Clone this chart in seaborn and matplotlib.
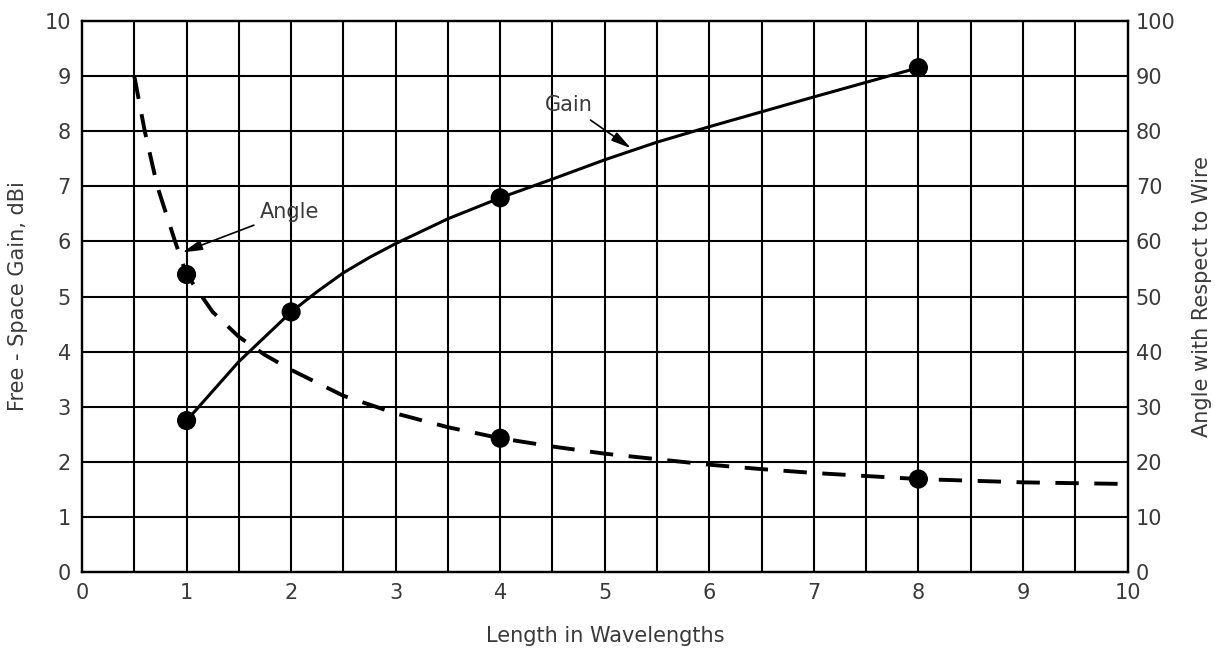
import matplotlib
matplotlib.use("Agg")
import matplotlib.pyplot as plt
import seaborn as sns
import pandas as pd
import numpy as np

# Gain curve (left axis, dBi)
gain_x = [1, 1.5, 2, 2.25, 2.5, 2.75, 3, 3.5, 4, 4.5, 5, 5.5, 6, 7, 8]
gain_y = [2.75, 3.82, 4.72, 5.09, 5.43, 5.71, 5.96, 6.41, 6.79, 7.13, 7.48, 7.80, 8.08, 8.62, 9.15]
gain_mark_x = [1, 2, 4, 8]
gain_mark_y = [2.75, 4.72, 6.79, 9.15]

# Angle curve (right axis, degrees)
angle_x = [0.5, 0.6, 0.72, 0.89, 1, 1.25, 1.5, 1.75, 2, 2.5, 3, 3.5, 4, 4.5, 5, 5.5, 6, 6.5, 7, 8, 9, 10]
angle_y = [90, 80, 70, 60, 54.0, 47.2, 42.7, 39.4, 36.7, 32.0, 28.8, 26.3, 24.3, 22.8, 21.5, 20.5, 19.5, 18.7, 18.0, 16.9, 16.3, 16.0]
angle_mark_x = [1, 4, 8]
angle_mark_y = [54.0, 24.3, 16.9]

x_ticks = list(range(0, 11))
left_ticks = list(range(0, 11))
right_ticks = list(range(0, 101, 10))

sns.set_style("white")
plt.rcParams['font.family'] = ['DejaVu Sans']
TXT = '#3a3a3a'
FS = 15

fig = plt.figure(figsize=(12.15, 6.51), dpi=100)
ax = fig.add_axes([0.0675, 0.121, 0.8605, 0.847])
ax2 = ax.twinx()

# grid
ax.set_xlim(0, 10)
ax.set_ylim(0, 10)
ax2.set_ylim(0, 100)
for v in np.arange(0.5, 10, 0.5):
    ax.axvline(v, color='black', lw=1.5, zorder=1)
for v in range(1, 10):
    ax.axhline(v, color='black', lw=1.5, zorder=1)

gdf = pd.DataFrame({'x': gain_x, 'y': gain_y})
sns.lineplot(data=gdf, x='x', y='y', ax=ax, color='black', lw=2.2, sort=False, zorder=3)
sns.scatterplot(x=gain_mark_x, y=gain_mark_y, ax=ax, color='black', s=190, edgecolor='none', zorder=4)

adf = pd.DataFrame({'x': angle_x, 'y': angle_y})
sns.lineplot(data=adf, x='x', y='y', ax=ax2, color='black', lw=2.8, sort=False,
             linestyle=(0, (6, 4)), zorder=3)
sns.scatterplot(x=angle_mark_x, y=angle_mark_y, ax=ax2, color='black', s=190, edgecolor='none', zorder=4)

ax.set_xticks(x_ticks)
ax.set_yticks(left_ticks)
ax2.set_yticks(right_ticks)
ax.tick_params(length=0, labelsize=FS, labelcolor=TXT, pad=8)
ax2.tick_params(length=0, labelsize=FS, labelcolor=TXT, pad=6)
ax.set_xlabel('Length in Wavelengths', fontsize=FS, color=TXT, labelpad=16)
ax.set_ylabel('Free - Space Gain, dBi', fontsize=FS, color=TXT, labelpad=12)
ax2.set_ylabel('Angle with Respect to Wire', fontsize=FS, color=TXT, labelpad=12)
for a in (ax, ax2):
    for s in a.spines.values():
        s.set_color('black')
        s.set_linewidth(1.6)

ax.annotate('Gain', xy=(5.25, 7.69), xytext=(4.43, 8.47), fontsize=FS, color=TXT,
            ha='left', va='center',
            arrowprops=dict(arrowstyle='-|>,head_length=0.8,head_width=0.2', color='black', lw=1.2,
                            shrinkA=2, shrinkB=0), zorder=5)
ax.annotate('Angle', xy=(0.96, 5.8), xytext=(1.7, 6.54), fontsize=FS, color=TXT,
            ha='left', va='center',
            arrowprops=dict(arrowstyle='-|>,head_length=0.8,head_width=0.2', color='black', lw=1.2,
                            shrinkA=2, shrinkB=0), zorder=5)

fig.savefig('out.png', dpi=100)
